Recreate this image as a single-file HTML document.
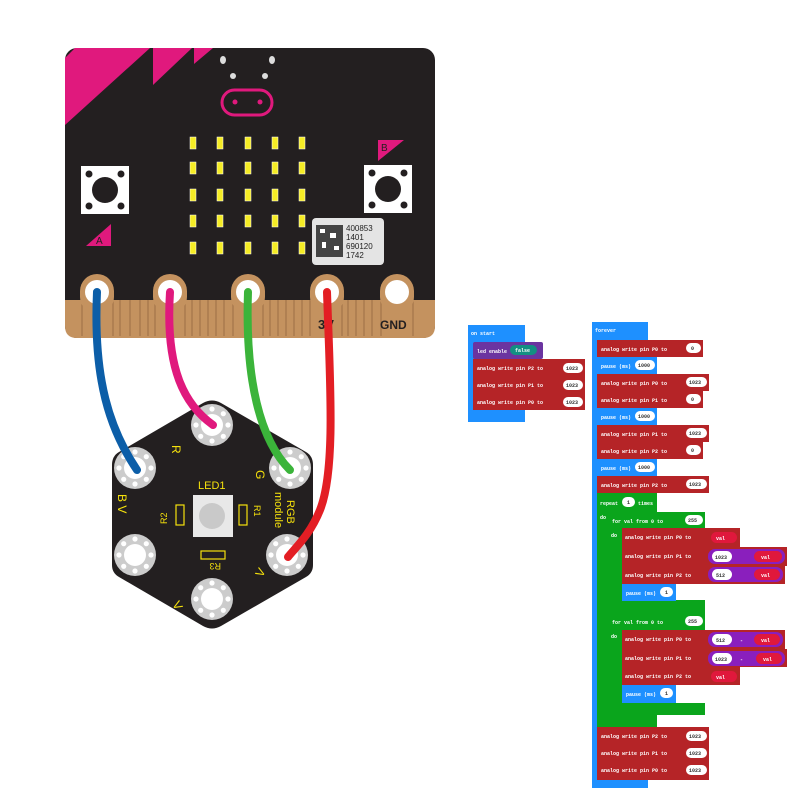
<!DOCTYPE html>
<html><head><meta charset="utf-8"><style>
html,body{margin:0;padding:0;background:#fff}
svg{display:block}
.t{font-family:"Liberation Mono",monospace;font-size:5px;fill:#fff;font-weight:bold;white-space:pre}
.y{font-family:"Liberation Sans",sans-serif;fill:#f5e10c}
</style></head><body>
<svg width="800" height="800" viewBox="0 0 800 800" xmlns="http://www.w3.org/2000/svg" xml:space="preserve">
<defs>
<g id="pad">
<circle r="21" fill="#ccc"/><circle r="11" fill="#fff"/>
<g fill="#fff"><circle cx="16" cy="0" r="2.6"/><circle cx="-16" cy="0" r="2.6"/><circle cx="0" cy="16" r="2.6"/><circle cx="0" cy="-16" r="2.6"/><circle cx="11.3" cy="11.3" r="2.6"/><circle cx="-11.3" cy="11.3" r="2.6"/><circle cx="11.3" cy="-11.3" r="2.6"/><circle cx="-11.3" cy="-11.3" r="2.6"/></g>
</g>
</defs>
<!-- micro:bit board -->
<rect x="65" y="48" width="370" height="290" rx="12" fill="#231f20"/>
<polygon points="75,48 150,48 65,125 65,58" fill="#e0197d"/>
<polygon points="153,48 192,48 153,85" fill="#e0197d"/>
<polygon points="194,48 213,48 194,64" fill="#e0197d"/>
<path d="M65,300 H435 V326 Q435,338 423,338 H77 Q65,338 65,326 Z" fill="#c4925f"/>
<g stroke="#9b6f45" stroke-width="1">
<line x1="120" y1="300" x2="120" y2="336"/><line x1="130" y1="300" x2="130" y2="336"/><line x1="140" y1="300" x2="140" y2="336"/><line x1="148" y1="300" x2="148" y2="336"/>
<line x1="192" y1="300" x2="192" y2="336"/><line x1="200" y1="300" x2="200" y2="336"/><line x1="208" y1="300" x2="208" y2="336"/><line x1="216" y1="300" x2="216" y2="336"/><line x1="224" y1="300" x2="224" y2="336"/>
<line x1="270" y1="300" x2="270" y2="336"/><line x1="278" y1="300" x2="278" y2="336"/><line x1="286" y1="300" x2="286" y2="336"/><line x1="294" y1="300" x2="294" y2="336"/><line x1="302" y1="300" x2="302" y2="336"/>
<line x1="348" y1="300" x2="348" y2="336"/><line x1="356" y1="300" x2="356" y2="336"/><line x1="364" y1="300" x2="364" y2="336"/><line x1="372" y1="300" x2="372" y2="336"/>
<line x1="82" y1="300" x2="82" y2="336"/><line x1="113" y1="300" x2="113" y2="336"/><line x1="155" y1="300" x2="155" y2="336"/><line x1="185" y1="300" x2="185" y2="336"/><line x1="233" y1="300" x2="233" y2="336"/><line x1="263" y1="300" x2="263" y2="336"/><line x1="310" y1="300" x2="310" y2="336"/><line x1="342" y1="300" x2="342" y2="336"/><line x1="381" y1="300" x2="381" y2="336"/><line x1="413" y1="300" x2="413" y2="336"/>
</g>
<g fill="#c4925f">
<rect x="80" y="274" width="34" height="40" rx="17"/><rect x="153" y="274" width="34" height="40" rx="17"/><rect x="231" y="274" width="34" height="40" rx="17"/><rect x="310" y="274" width="34" height="40" rx="17"/><rect x="380" y="274" width="34" height="40" rx="17"/>
</g>
<g fill="#fff"><circle cx="97" cy="292" r="12"/><circle cx="170" cy="292" r="12"/><circle cx="248" cy="292" r="12"/><circle cx="327" cy="292" r="12"/><circle cx="397" cy="292" r="12"/></g>
<text x="318" y="329" font-family="Liberation Sans" font-weight="bold" font-size="13" fill="#231f20">3V</text>
<text x="380" y="329" font-family="Liberation Sans" font-weight="bold" font-size="12" fill="#231f20">GND</text>
<g fill="#ddd"><ellipse cx="223" cy="60" rx="3" ry="4"/><ellipse cx="272" cy="60" rx="3" ry="4"/><circle cx="233" cy="76" r="3"/><circle cx="265" cy="76" r="3"/></g>
<rect x="222" y="90" width="50" height="25" rx="12.5" fill="none" stroke="#e0197d" stroke-width="3"/>
<circle cx="235" cy="102" r="2.5" fill="#e0197d"/><circle cx="260" cy="102" r="2.5" fill="#e0197d"/>
<rect x="81" y="166" width="48" height="48" fill="#fff"/><circle cx="105" cy="190" r="13" fill="#231f20"/>
<g fill="#231f20"><circle cx="89" cy="174" r="3.5"/><circle cx="121" cy="174" r="3.5"/><circle cx="89" cy="206" r="3.5"/><circle cx="121" cy="206" r="3.5"/></g>
<rect x="364" y="165" width="48" height="48" fill="#fff"/><circle cx="388" cy="189" r="13" fill="#231f20"/>
<g fill="#231f20"><circle cx="372" cy="173" r="3.5"/><circle cx="404" cy="173" r="3.5"/><circle cx="372" cy="205" r="3.5"/><circle cx="404" cy="205" r="3.5"/></g>
<polygon points="86,246 111,246 111,224" fill="#e0197d"/><text x="96" y="244" font-family="Liberation Sans" font-size="10" fill="#231f20">A</text>
<polygon points="378,140 404,140 378,161" fill="#e0197d"/><text x="381" y="151" font-family="Liberation Sans" font-size="10" fill="#231f20">B</text>
<g fill="#f5ec25" stroke="#fff" stroke-width="0.5">
<rect x="190" y="137" width="6" height="12"/><rect x="217" y="137" width="6" height="12"/><rect x="245" y="137" width="6" height="12"/><rect x="272" y="137" width="6" height="12"/><rect x="299" y="137" width="6" height="12"/>
<rect x="190" y="162" width="6" height="12"/><rect x="217" y="162" width="6" height="12"/><rect x="245" y="162" width="6" height="12"/><rect x="272" y="162" width="6" height="12"/><rect x="299" y="162" width="6" height="12"/>
<rect x="190" y="189" width="6" height="12"/><rect x="217" y="189" width="6" height="12"/><rect x="245" y="189" width="6" height="12"/><rect x="272" y="189" width="6" height="12"/><rect x="299" y="189" width="6" height="12"/>
<rect x="190" y="215" width="6" height="12"/><rect x="217" y="215" width="6" height="12"/><rect x="245" y="215" width="6" height="12"/><rect x="272" y="215" width="6" height="12"/><rect x="299" y="215" width="6" height="12"/>
<rect x="190" y="242" width="6" height="12"/><rect x="217" y="242" width="6" height="12"/><rect x="245" y="242" width="6" height="12"/><rect x="272" y="242" width="6" height="12"/><rect x="299" y="242" width="6" height="12"/>
</g>
<rect x="312" y="218" width="72" height="47" rx="4" fill="#e4e4e4"/>
<rect x="316" y="225" width="27" height="32" fill="#444"/>
<g fill="#fff"><rect x="320" y="229" width="5" height="4"/><rect x="330" y="233" width="6" height="5"/><rect x="322" y="242" width="4" height="6"/><rect x="334" y="246" width="5" height="4"/></g>
<g font-family="Liberation Sans" font-size="8" fill="#222">
<text x="346" y="231">400853</text><text x="346" y="240">1401</text><text x="346" y="249">690120</text><text x="346" y="258">1742</text></g>
<!-- hexagon module -->
<path d="M203,403 Q212,398 221,403 L306,452 Q313,456 313,465 V565 Q313,573 306,577 L221,626 Q212,631 203,626 L119,577 Q112,573 112,565 V465 Q112,456 119,452 Z" fill="#231f20"/>
<use href="#pad" x="212" y="425"/><use href="#pad" x="135" y="468"/><use href="#pad" x="290" y="468"/>
<use href="#pad" x="135" y="555"/><use href="#pad" x="287" y="555"/><use href="#pad" x="212" y="599"/>
<rect x="193" y="495" width="40" height="42" fill="#e8e8e8"/><circle cx="212" cy="516" r="13" fill="#c9c9c9"/>
<rect x="176" y="505" width="8" height="20" fill="none" stroke="#f5e10c" stroke-width="1.2"/>
<rect x="239" y="505" width="8" height="20" fill="none" stroke="#f5e10c" stroke-width="1.2"/>
<rect x="201" y="551" width="24" height="8" fill="none" stroke="#f5e10c" stroke-width="1.2"/>
<text class="y" x="198" y="489" font-size="11">LED1</text>
<text class="y" x="0" y="0" font-size="12" transform="translate(172,445) rotate(90)">R</text>
<text class="y" x="0" y="0" font-size="12" transform="translate(256,470) rotate(90)">G</text>
<text class="y" x="0" y="0" font-size="12" transform="translate(118,494) rotate(90)">B V</text>
<text class="y" x="0" y="0" font-size="11" transform="translate(287,500) rotate(90)">RGB</text>
<text class="y" x="0" y="0" font-size="11" transform="translate(275,492) rotate(90)">module</text>
<text class="y" x="0" y="0" font-size="9" transform="translate(254,505) rotate(90)">R1</text>
<text class="y" x="0" y="0" font-size="9" transform="translate(167,524) rotate(-90)">R2</text>
<text class="y" x="0" y="0" font-size="9" transform="translate(221,563) rotate(180)">R3</text>
<text class="y" x="0" y="0" font-size="12" transform="translate(262,578) rotate(-60)">V</text>
<text class="y" x="0" y="0" font-size="12" transform="translate(172,604) rotate(60)">V</text>
<g fill="none" stroke-width="8" stroke-linecap="round">
<path d="M97,292 C93,380 110,430 137,470" stroke="#0c5ea8"/>
<path d="M170,292 C165,370 185,405 213,425" stroke="#e0197d"/>
<path d="M248,292 C245,380 260,440 290,470" stroke="#3bb43a"/>
<path d="M327,292 C330,380 336,470 320,510 C310,535 295,548 288,557" stroke="#e31e24"/>
</g>
<!-- on start -->
<g class="t">
<rect x="468" y="325" width="57" height="97" fill="#1e90ff"/>
<text x="471" y="335">on start</text>
<rect x="473" y="342" width="70" height="17" rx="2" fill="#6b34a0"/><text x="477" y="353">led enable</text>
<rect x="510" y="345" width="27" height="10" rx="5" fill="#138f82"/><text x="515" y="352">false</text>
<rect x="473" y="359" width="112" height="51" fill="#b52427"/>
<text x="477" y="370">analog write pin  P2   to</text><rect x="563" y="363" width="20" height="10" rx="5" fill="#fff"/><text x="566" y="370" fill="#333">1023</text>
<text x="477" y="387">analog write pin  P1   to</text><rect x="563" y="380" width="20" height="10" rx="5" fill="#fff"/><text x="566" y="387" fill="#333">1023</text>
<text x="477" y="404">analog write pin  P0   to</text><rect x="563" y="397" width="20" height="10" rx="5" fill="#fff"/><text x="566" y="404" fill="#333">1023</text>
</g>
<!-- forever -->
<g class="t">
<rect x="592" y="322" width="56" height="466" fill="#1e90ff"/>
<text x="595" y="332">forever</text>
<rect x="597" y="340" width="106" height="17" fill="#b52427"/><text x="601" y="351">analog write pin  P0    to</text><rect x="686" y="343" width="15" height="10" rx="5" fill="#fff"/><text x="691" y="350" fill="#333">0</text>
<rect x="597" y="357" width="60" height="17" fill="#1e90ff"/><text x="601" y="368">pause (ms)</text><rect x="635" y="360" width="20" height="10" rx="5" fill="#fff"/><text x="638" y="367" fill="#333">1000</text>
<rect x="597" y="374" width="112" height="17" fill="#b52427"/><text x="601" y="385">analog write pin  P0    to</text><rect x="686" y="377" width="21" height="10" rx="5" fill="#fff"/><text x="689" y="384" fill="#333">1023</text>
<rect x="597" y="391" width="106" height="17" fill="#b52427"/><text x="601" y="402">analog write pin  P1    to</text><rect x="686" y="394" width="15" height="10" rx="5" fill="#fff"/><text x="691" y="401" fill="#333">0</text>
<rect x="597" y="408" width="60" height="17" fill="#1e90ff"/><text x="601" y="419">pause (ms)</text><rect x="635" y="411" width="20" height="10" rx="5" fill="#fff"/><text x="638" y="418" fill="#333">1000</text>
<rect x="597" y="425" width="112" height="17" fill="#b52427"/><text x="601" y="436">analog write pin  P1    to</text><rect x="686" y="428" width="21" height="10" rx="5" fill="#fff"/><text x="689" y="435" fill="#333">1023</text>
<rect x="597" y="442" width="106" height="17" fill="#b52427"/><text x="601" y="453">analog write pin  P2    to</text><rect x="686" y="445" width="15" height="10" rx="5" fill="#fff"/><text x="691" y="452" fill="#333">0</text>
<rect x="597" y="459" width="60" height="17" fill="#1e90ff"/><text x="601" y="470">pause (ms)</text><rect x="635" y="462" width="20" height="10" rx="5" fill="#fff"/><text x="638" y="469" fill="#333">1000</text>
<rect x="597" y="476" width="112" height="17" fill="#b52427"/><text x="601" y="487">analog write pin  P2    to</text><rect x="686" y="479" width="21" height="10" rx="5" fill="#fff"/><text x="689" y="486" fill="#333">1023</text>
<rect x="597" y="493" width="60" height="20" fill="#0aa51c"/><text x="600" y="505">repeat</text><rect x="622" y="497" width="13" height="10" rx="5" fill="#fff"/><text x="627" y="504" fill="#333">1</text><text x="638" y="505">times</text>
<rect x="597" y="510" width="12" height="217" fill="#0aa51c"/><text x="600" y="519">do</text>
<rect x="597" y="715" width="60" height="12" fill="#0aa51c"/>
<rect x="608" y="512" width="97" height="17" fill="#0aa51c"/><text x="612" y="523">for  val    from 0 to</text><rect x="685" y="515" width="18" height="10" rx="5" fill="#fff"/><text x="688" y="522" fill="#333">255</text>
<rect x="608" y="529" width="14" height="73" fill="#0aa51c"/><text x="611" y="537">do</text>
<rect x="608" y="600" width="97" height="13" fill="#0aa51c"/>
<rect x="622" y="528" width="118" height="19" fill="#b52427"/><text x="625" y="539">analog write pin  P0    to</text><rect x="711" y="532" width="26" height="11" rx="5.5" fill="#e0183c"/><text x="716" y="540">val</text>
<rect x="622" y="547" width="165" height="19" fill="#b52427"/><text x="625" y="558">analog write pin  P1    to</text><rect x="708" y="549" width="77" height="15" rx="7" fill="#8a1fbd"/><rect x="712" y="551" width="20" height="11" rx="5.5" fill="#fff"/><text x="715" y="559" fill="#333">1023</text><rect x="754" y="551" width="28" height="11" rx="5.5" fill="#e0183c"/><text x="761" y="559">val</text>
<rect x="622" y="566" width="163" height="18" fill="#b52427"/><text x="625" y="577">analog write pin  P2    to</text><rect x="708" y="567" width="75" height="15" rx="7" fill="#8a1fbd"/><rect x="712" y="569" width="20" height="11" rx="5.5" fill="#fff"/><text x="716" y="577" fill="#333">512</text><rect x="754" y="569" width="26" height="11" rx="5.5" fill="#e0183c"/><text x="761" y="577">val</text>
<rect x="622" y="584" width="54" height="17" fill="#1e90ff"/><text x="626" y="595">pause (ms)</text><rect x="660" y="587" width="13" height="10" rx="5" fill="#fff"/><text x="665" y="594" fill="#333">1</text>
<rect x="608" y="613" width="97" height="17" fill="#0aa51c"/><text x="612" y="624">for  val    from 0 to</text><rect x="685" y="616" width="18" height="10" rx="5" fill="#fff"/><text x="688" y="623" fill="#333">255</text>
<rect x="608" y="630" width="14" height="75" fill="#0aa51c"/><text x="611" y="638">do</text>
<rect x="608" y="703" width="97" height="12" fill="#0aa51c"/>
<rect x="622" y="630" width="163" height="19" fill="#b52427"/><text x="625" y="641">analog write pin  P0    to</text><rect x="708" y="632" width="75" height="15" rx="7" fill="#8a1fbd"/><rect x="712" y="634" width="20" height="11" rx="5.5" fill="#fff"/><text x="716" y="642" fill="#333">512</text><text x="740" y="642">-</text><rect x="754" y="634" width="26" height="11" rx="5.5" fill="#e0183c"/><text x="761" y="642">val</text>
<rect x="622" y="649" width="165" height="18" fill="#b52427"/><text x="625" y="660">analog write pin  P1    to</text><rect x="708" y="651" width="77" height="15" rx="7" fill="#8a1fbd"/><rect x="712" y="653" width="20" height="11" rx="5.5" fill="#fff"/><text x="715" y="661" fill="#333">1023</text><text x="740" y="661">-</text><rect x="756" y="653" width="26" height="11" rx="5.5" fill="#e0183c"/><text x="763" y="661">val</text>
<rect x="622" y="667" width="118" height="18" fill="#b52427"/><text x="625" y="678">analog write pin  P2    to</text><rect x="711" y="671" width="26" height="11" rx="5.5" fill="#e0183c"/><text x="716" y="679">val</text>
<rect x="622" y="685" width="54" height="18" fill="#1e90ff"/><text x="626" y="696">pause (ms)</text><rect x="660" y="688" width="13" height="10" rx="5" fill="#fff"/><text x="665" y="695" fill="#333">1</text>
<rect x="597" y="727" width="112" height="53" fill="#b52427"/>
<text x="601" y="738">analog write pin  P2    to</text><rect x="686" y="731" width="21" height="10" rx="5" fill="#fff"/><text x="689" y="738" fill="#333">1023</text>
<text x="601" y="755">analog write pin  P1    to</text><rect x="686" y="748" width="21" height="10" rx="5" fill="#fff"/><text x="689" y="755" fill="#333">1023</text>
<text x="601" y="772">analog write pin  P0    to</text><rect x="686" y="765" width="21" height="10" rx="5" fill="#fff"/><text x="689" y="772" fill="#333">1023</text>
</g>
</svg>
</body></html>
